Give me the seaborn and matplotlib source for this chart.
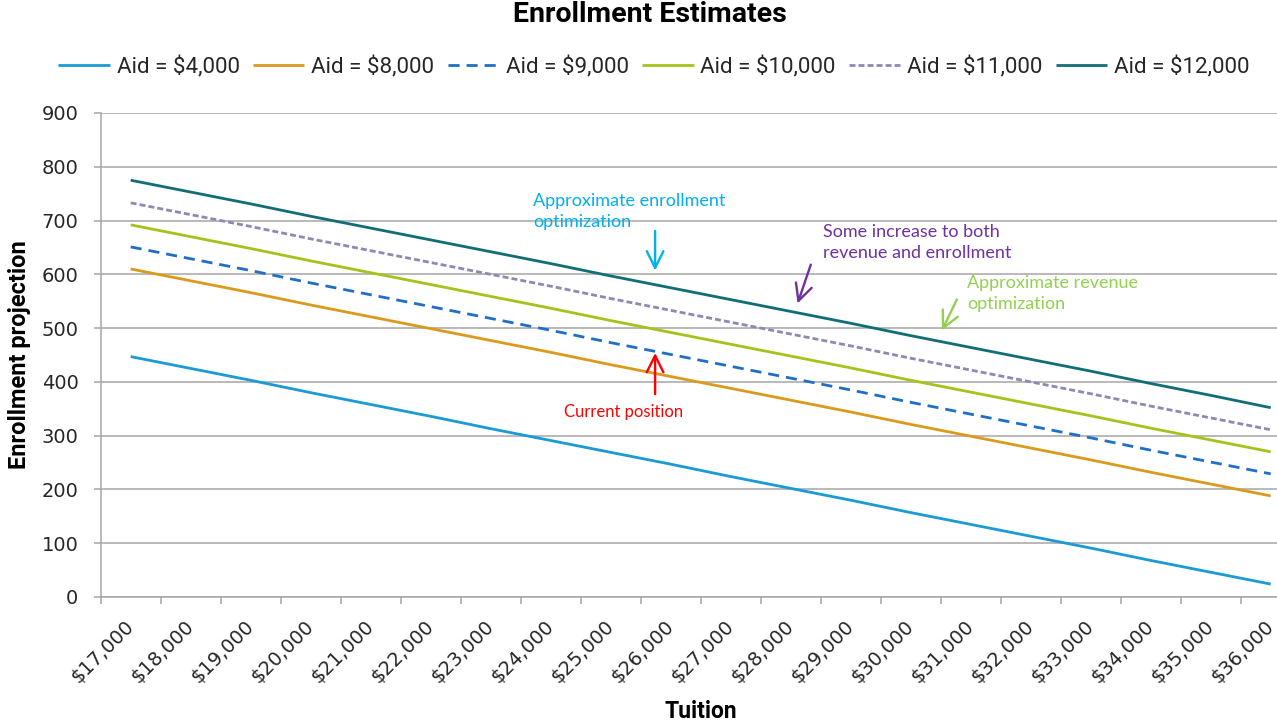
import numpy as np
import pandas as pd
import seaborn as sns
import matplotlib
matplotlib.use("Agg")
import matplotlib.pyplot as plt

# Tuition categories (x axis)
tuition_labels = ["$17,000", "$18,000", "$19,000", "$20,000", "$21,000",
                  "$22,000", "$23,000", "$24,000", "$25,000", "$26,000",
                  "$27,000", "$28,000", "$29,000", "$30,000", "$31,000",
                  "$32,000", "$33,000", "$34,000", "$35,000", "$36,000"]

# Projected enrollment for each aid level
aid_4000 = [447, 425, 403, 380, 358, 336, 313, 291, 269, 247,
            224, 202, 180, 157, 135, 113, 91, 68, 46, 24]
aid_8000 = [610, 588, 566, 543, 521, 499, 477, 455, 432, 410,
            388, 366, 344, 321, 299, 277, 255, 232, 210, 188]
aid_9000 = [651, 629, 607, 584, 562, 540, 518, 496, 473, 451,
            429, 407, 385, 362, 340, 318, 296, 273, 251, 229]
aid_10000 = [692, 670, 648, 625, 603, 581, 559, 537, 514, 492,
             470, 448, 426, 403, 381, 359, 337, 314, 292, 270]
aid_11000 = [733, 711, 689, 666, 644, 622, 600, 578, 555, 533,
             511, 489, 467, 444, 422, 400, 378, 355, 333, 311]
aid_12000 = [775, 753, 731, 708, 686, 664, 642, 620, 597, 575,
             553, 531, 509, 486, 464, 442, 420, 397, 375, 352]

series_names = ["Aid = $4,000", "Aid = $8,000", "Aid = $9,000",
                "Aid = $10,000", "Aid = $11,000", "Aid = $12,000"]
series_values = [aid_4000, aid_8000, aid_9000, aid_10000, aid_11000, aid_12000]
series_colors = ["#1A9BD7", "#DA9A1C", "#1F6FC6", "#A6C21B", "#8C8AB5", "#116E78"]
series_dashes = [None, None, (8, 5), None, (4.3, 2.2), None]

sns.set_theme(style="white")
plt.rcParams["font.family"] = ["DejaVu Sans"]
plt.rcParams["lines.scale_dashes"] = False

W, H = 1277, 723
fig = plt.figure(figsize=(W / 100, H / 100), dpi=100)
# plot area runs past the right edge of the canvas
ax = fig.add_axes([100.7 / W, 126 / H, 1200 / W, 484 / H])

pos = np.arange(len(tuition_labels))
df = pd.DataFrame({"pos": pos})
for name, vals, col, dsh in zip(series_names, series_values, series_colors, series_dashes):
    df[name] = vals
    sns.lineplot(data=df, x="pos", y=name, color=col, linewidth=2.0, ax=ax, label=name,
                 legend=False)
    line = ax.lines[-1]
    if dsh is not None:
        line.set_dashes(dsh)
    line.set_solid_capstyle("butt")
    line.set_dash_capstyle("butt")

grid_col = "#A6A6A6"
ax.set_xlim(-0.5, len(tuition_labels) - 0.5)
ax.set_ylim(0, 900)
ax.set_yticks(np.arange(0, 901, 100))
ax.yaxis.grid(True, color=grid_col, linewidth=1.1)
ax.set_axisbelow(True)
for s in ["top", "right"]:
    ax.spines[s].set_visible(False)
for s in ["left", "bottom"]:
    ax.spines[s].set_color(grid_col)
    ax.spines[s].set_linewidth(1.1)

ax.tick_params(axis="y", which="major", length=5, width=1.1, color=grid_col,
               pad=11, labelsize=14, labelcolor="#262626")
ax.set_yticklabels([str(v) for v in range(0, 901, 100)])

# labels centered on categories, tick marks on category boundaries
ax.set_xticks(pos)
ax.set_xticklabels(tuition_labels, rotation=45, ha="right", va="center",
                   rotation_mode="anchor", fontsize=14, color="#262626")
ax.set_xticks(np.arange(-0.5, len(tuition_labels) + 0.5, 1), minor=True)
ax.tick_params(axis="x", which="major", length=0, pad=19)
ax.tick_params(axis="x", which="minor", length=5, width=1.1, color=grid_col)
ax.tick_params(axis="both", which="both", bottom=True, left=True, direction="out")
ax.set_xlabel("")
ax.set_ylabel("")

fig.text(20 / W, 1 - 355 / H, "Enrollment projection", rotation=90, ha="center",
         va="center", fontsize=17, fontweight="bold", family="Roboto", color="#000000")
fig.text(701 / W, 1 - 712 / H, "Tuition", ha="center", va="center",
         fontsize=16.5, fontweight="bold", family="Roboto", color="#000000")
fig.text(650 / W, 1 - 15 / H, "Enrollment Estimates", ha="center", va="center",
         fontsize=20.5, fontweight="bold", family="Roboto", color="#000000")

handles = ax.lines[:len(series_names)]
leg = fig.legend(handles, series_names, loc="center", bbox_to_anchor=(654 / W, 1 - 67 / H),
                 ncol=6, frameon=False, prop=dict(family="Roboto", size=16.1),
                 handlelength=2.3, handletextpad=0.3, columnspacing=0.6)

# callouts
ann_font = dict(family="Lato", size=13)
ax.text(6.705, 717, "Approximate enrollment\noptimization", color="#00B0F0", ha="left",
        va="center", linespacing=1.4, **ann_font)
ax.annotate("", xy=(8.74, 602), xytext=(8.74, 686),
            arrowprops=dict(arrowstyle="->", color="#00B0F0", lw=1.7, mutation_scale=30))

ax.text(11.54, 659, "Some increase to both\nrevenue and enrollment", color="#7030A0",
        ha="left", va="center", linespacing=1.4, **ann_font)
ax.annotate("", xy=(11.1, 541), xytext=(11.35, 623),
            arrowprops=dict(arrowstyle="->", color="#7030A0", lw=1.7, mutation_scale=30))

ax.text(13.94, 564, "Approximate revenue\noptimization", color="#92D050", ha="left",
        va="center", linespacing=1.4, **ann_font)
ax.annotate("", xy=(13.5, 491), xytext=(13.79, 558),
            arrowprops=dict(arrowstyle="->", color="#92D050", lw=1.7, mutation_scale=30))

ax.text(8.22, 344, "Current position", color="#FF0000", ha="center", va="center",
        family="Lato", size=12)
ax.annotate("", xy=(8.74, 459), xytext=(8.74, 372),
            arrowprops=dict(arrowstyle="->", color="#FF0000", lw=1.7, mutation_scale=30))

fig.savefig("out.png", dpi=100, facecolor="white")
